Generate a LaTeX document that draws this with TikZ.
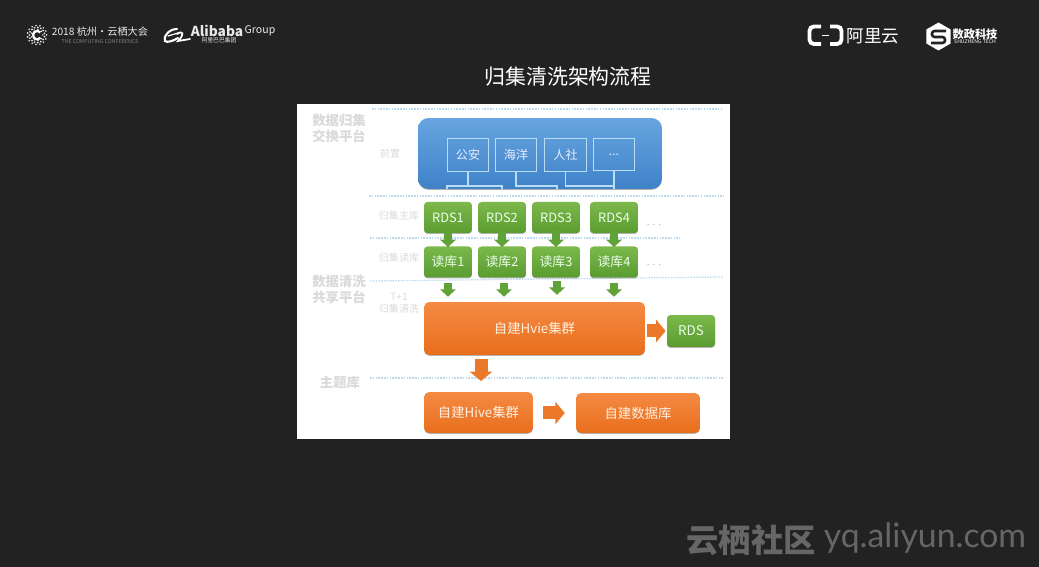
\documentclass[tikz,border=0pt]{standalone}
\usepackage{fontspec}
\setmainfont{Noto Sans CJK SC}
\newfontfamily\latinfont{Lato}
\usetikzlibrary{arrows.meta,shadows,shapes.geometric}

\definecolor{slidebg}{HTML}{222222}
\definecolor{sidegray}{HTML}{DADADA}
\definecolor{ruleblue}{HTML}{BBD9EE}
\definecolor{boxline}{HTML}{B9DDF5}
\definecolor{markgray}{HTML}{666666}
\definecolor{logogray}{HTML}{E8E8E8}
\definecolor{greentop}{HTML}{7CB84C}
\definecolor{greenlow}{HTML}{5A9C30}
\definecolor{greenhead}{HTML}{60A238}
\definecolor{orangetop}{HTML}{F58A44}
\definecolor{orangelow}{HTML}{E86E1C}
\definecolor{orangehead}{HTML}{EC782A}
\definecolor{bluetop}{HTML}{68A5E0}
\definecolor{bluelow}{HTML}{3E82C8}

\tikzset{
  softshadow/.style={drop shadow={shadow xshift=0pt,shadow yshift=-0.5pt,opacity=0.3,fill=black}},
  greenbox/.style={rounded corners=2pt,softshadow,top color=greentop,bottom color=greenlow,
    text=white!92!green,font=\fontsize{7.3pt}{8pt}\selectfont,
    minimum width=0.96cm,minimum height=0.62cm,inner sep=0pt},
  orangebox/.style={rounded corners=3pt,softshadow,top color=orangetop,bottom color=orangelow,
    text=white!88!orange,font=\fontsize{7.6pt}{8pt}\selectfont,inner sep=0pt},
  frontbox/.style={draw=boxline,line width=0.6pt,text=white!92!blue,font=\fontsize{6.9pt}{8pt}\selectfont,
    minimum width=0.83cm,minimum height=0.65cm,inner sep=0pt},
  sidebig/.style={text=sidegray,font=\fontsize{7.6pt}{8pt}\selectfont\bfseries,inner sep=0pt},
  sidesmall/.style={text=sidegray,font=\fontsize{5.7pt}{7pt}\selectfont,inner sep=0pt},
  busline/.style={draw=boxline,line width=0.6pt},
  divider/.style={draw=ruleblue,line width=0.7pt,dash pattern=on 0.9pt off 0.7pt},
  greenarrow/.style={draw=greenhead,line width=5pt,-{Triangle[length=4.2pt,width=8.8pt]}},
  orangearrow/.style={draw=orangehead,line width=7.4pt,-{Triangle[length=5.4pt,width=12.6pt]}},
  logotext/.style={text=logogray,inner sep=0pt},
}

\begin{document}
\begin{tikzpicture}[x=0.02cm,y=-0.02cm]
  \useasboundingbox (0,0) rectangle (1039,567);
  \fill[slidebg] (0,0) rectangle (1039,567);

  % conference logos, left
  \begin{scope}[shift={(37,35)}]
    \foreach \a in {0,24,...,336} \fill[logogray] (\a:9.6) circle (0.9);
    \foreach \a in {12,36,...,348} \fill[logogray] (\a:7.6) circle (1.0);
    \foreach \a in {0,40,...,320} \fill[logogray] (\a:5.8) circle (0.8);
    \draw[white,line width=1.3pt] (3.4,-2.6) arc (-40:-320:4.2);
  \end{scope}
  \node[logotext,font=\fontsize{5.8pt}{8pt}\selectfont] (confname) at (100,32) {2018 杭州·云栖大会};
  \node[logotext,text=gray,font=\fontsize{3pt}{4pt}\selectfont] (confsub) at (100,42) {THE COMPUTING CONFERENCE};
  \draw[white,line width=1.2pt,line cap=round] (177,29)
    .. controls (168,29) and (163,38) .. (165,41)
    .. controls (167,43) and (173,41) .. (178,38);
  \draw[white,line width=0.7pt,line cap=round] (168,36) -- (178,33);
  \draw[white,line width=1pt,line cap=round] (177,34)
    .. controls (183,30) and (185,34) .. (178,41) -- (190,39);
  \node[logotext,font=\fontsize{7.8pt}{8pt}\selectfont\bfseries] (alibaba) at (217,31) {Alibaba};
  \node[logotext,font=\fontsize{6pt}{8pt}\selectfont] (group) at (260,31) {Group};
  \node[logotext,font=\fontsize{3.3pt}{4pt}\selectfont] (alicn) at (219,40) {阿里巴巴集团};

  % cloud and shuzheng logos, right
  \draw[white,line width=2.2pt,rounded corners=2.5pt] (821,26.5) -- (809.5,26.5) -- (809.5,44) -- (821,44);
  \draw[white,line width=2.2pt,rounded corners=2.5pt] (830,26.5) -- (841.5,26.5) -- (841.5,44) -- (830,44);
  \draw[white,line width=0.5pt] (822,35.5) -- (829,35.5);
  \node[logotext,text=white,font=\fontsize{10pt}{12pt}\selectfont] (aliyun) at (873,36) {阿里云};
  \node[regular polygon,regular polygon sides=6,shape border rotate=30,fill=white,inner sep=0pt,
    minimum size=0.56cm] (hexlogo) at (938.5,36.5) {};
  \draw[slidebg,line width=1.5pt,rounded corners=1.5pt] (946,31) -- (932,31) -- (932,37) -- (945,37) -- (945,43) -- (931,43);
  \node[logotext,text=white,font=\fontsize{6.4pt}{8pt}\selectfont\bfseries] (szname) at (975,34) {数政科技};
  \node[logotext,text=white,font=\fontsize{2.9pt}{4pt}\selectfont] (szsub) at (975,42) {SHUZHENG TECH};

  \node[text=white,inner sep=0pt,font=\fontsize{11.9pt}{14pt}\selectfont] (title) at (568,77) {归集清洗架构流程};

  % white sheet and dotted dividers
  \fill[white] (297,104) rectangle (730,439);
  \draw[divider] (372,109) -- (723,109);
  \draw[divider] (369,196) -- (724,196);
  \draw[divider] (370,238) -- (680,238);
  \draw[divider] (370,281) -- (724,277);
  \draw[divider] (370,378) -- (724,378);

  % side labels
  \node[sidebig] (s1a) at (339,120) {数据归集};
  \node[sidebig] (s1b) at (339,136) {交换平台};
  \node[sidesmall] (s2) at (390,154) {前置};
  \node[sidesmall] (s3) at (399,216) {归集主库};
  \node[sidesmall] (s4) at (399,258) {归集读库};
  \node[sidebig] (s5a) at (339,281) {数据清洗};
  \node[sidebig] (s5b) at (339,297) {共享平台};
  \node[sidesmall] (s6a) at (399,297) {T+1};
  \node[sidesmall] (s6b) at (399,309) {归集清洗};
  \node[sidebig] (s7) at (340,382) {主题库};

  % front end block
  \node[rounded corners=6pt,softshadow,top color=bluetop,bottom color=bluelow,
    minimum width=4.88cm,minimum height=1.42cm] (front) at (540,153.5) {};
  \node[frontbox] (police) at (468,155) {公安};
  \node[frontbox] (ocean) at (516,155) {海洋};
  \node[frontbox] (social) at (565.5,155) {人社};
  \node[frontbox] (more) at (614,154.5) {...};

  \coordinate (bus1l) at (447,186);
  \coordinate (bus1r) at (502,186);
  \coordinate (bus2r) at (557,186);
  \coordinate (bus3r) at (614,186);
  \draw[busline] (police.south) -- (police.south |- bus1l);
  \draw[busline] (bus1l |- front.south) -- (bus1l) -- (bus1r) -- (bus1r |- front.south);
  \draw[busline] (ocean.south) -- (ocean.south |- bus2r) -- (bus2r) -- (bus2r |- front.south);
  \draw[busline] (social.south) -- (social.south |- bus3r) -- (bus3r);
  \draw[busline] (more.south) -- (more.south |- front.south);

  % master and read instances
  \node[greenbox] (rds1) at (448,217.5) {RDS1};
  \node[greenbox] (rds2) at (502,217.5) {RDS2};
  \node[greenbox] (rds3) at (556,217.5) {RDS3};
  \node[greenbox] (rds4) at (614,217.5) {RDS4};
  \node[greenbox] (read1) at (448,262) {读库1};
  \node[greenbox] (read2) at (502,262) {读库2};
  \node[greenbox] (read3) at (556,262) {读库3};
  \node[greenbox] (read4) at (614,262) {读库4};
  \node[sidesmall,text=gray!60] (dots1) at (654,225) {. . .};
  \node[sidesmall,text=gray!60] (dots2) at (654,265) {. . .};

  % cleaning cluster and subject stores
  \node[orangebox,minimum width=4.42cm,minimum height=1.06cm] (hvie) at (534.5,328.5) {自建Hvie集群};
  \node[greenbox,minimum height=0.64cm,font=\fontsize{7.6pt}{8pt}\selectfont] (rds) at (691,331) {RDS};
  \node[orangebox,minimum width=2.18cm,minimum height=0.82cm] (hive) at (478.5,412.5) {自建Hive集群};
  \node[orangebox,minimum width=2.48cm,minimum height=0.8cm] (store) at (638,413) {自建数据库};

  % block arrows
  \draw[greenarrow,shorten <=-2pt,shorten >=-0.5pt] (rds1) -- (read1);
  \draw[greenarrow,shorten <=-2pt,shorten >=-0.5pt] (rds2) -- (read2);
  \draw[greenarrow,shorten <=-2pt,shorten >=-0.5pt] (rds3) -- (read3);
  \draw[greenarrow,shorten <=-2pt,shorten >=-0.5pt] (rds4) -- (read4);
  \draw[greenarrow,shorten <=2.8pt,shorten >=2.8pt] (read1.south) -- (read1.south |- hvie.north);
  \draw[greenarrow,shorten <=2.8pt,shorten >=2.8pt] ([xshift=0.04cm]read2.south) -- ([xshift=0.04cm]read2.south |- hvie.north);
  \draw[greenarrow,shorten <=1.7pt,shorten >=3.9pt] ([xshift=0.02cm]read3.south) -- ([xshift=0.02cm]read3.south |- hvie.north);
  \draw[greenarrow,shorten <=2.8pt,shorten >=2.8pt] (read4.south) -- (read4.south |- hvie.north);
  \draw[orangearrow,shorten <=1.2pt,shorten >=0.6pt] (hvie.east |- rds.west) -- (rds.west);
  \coordinate (drop) at (481,392);
  \draw[orangearrow,shorten <=2.3pt,shorten >=6.2pt] (drop |- hvie.south) -- (drop);
  \draw[orangearrow,shorten <=5.7pt,shorten >=6.2pt] (hive.east |- store.west) -- (store.west);

  % watermark
  \node[inner sep=0pt,text=markgray,font=\fontsize{18.4pt}{20pt}\selectfont\bfseries] (yqcn) at (751,540) {云栖社区};
  \node[inner sep=0pt,text=markgray,font=\latinfont\fontsize{19.2pt}{20pt}\selectfont] (yqurl) at (925,538) {yq.aliyun.com};
\end{tikzpicture}
\end{document}
